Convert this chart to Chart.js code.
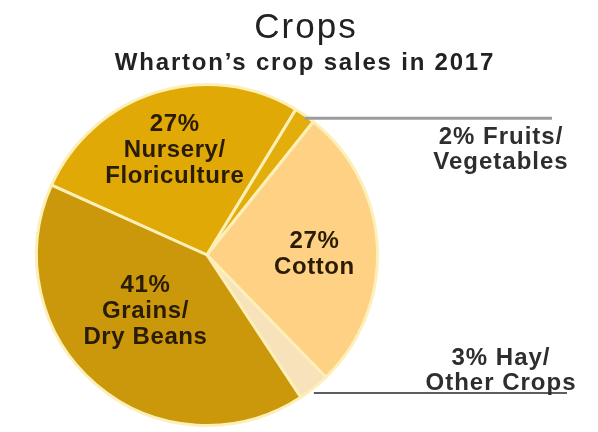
<!DOCTYPE html>
<html>
<head>
<meta charset="utf-8">
<script src="https://cdn.jsdelivr.net/npm/chart.js@4"></script>
<style>
  html, body { margin: 0; padding: 0; background: #fff; }
</style>
</head>
<body>
<canvas id="chart" width="598" height="432"></canvas>
<script>
// crop sales pie, labels drawn by a small plugin (no datalabels available)

const TITLE = 'Crops'
const SUBTITLE = 'Wharton\u2019s crop sales in 2017'

const categories = ['Nursery/Floriculture', 'Fruits/Vegetables', 'Cotton', 'Hay/Other Crops', 'Grains/Dry Beans']
const shares = [27, 2, 27, 3, 41]
const nameLines = [['Nursery/', 'Floriculture'], ['Fruits/', 'Vegetables'], ['Cotton'], ['Hay/', 'Other Crops'], ['Grains/', 'Dry Beans']]
const sliceColors = ['#E1A906', '#E3AE0C', '#FED184', '#F8E2BC', '#CB970B']

// where each label goes: inside the slice, or outside with a leader line
const labelPlacement = [
  { inside: true, r: 0.64, shift: 0 },
  { inside: false, below: true, lineEnd: 552, lineColor: '#9c9c9c', lineWidth: 3, dy: 3 },
  { inside: true, r: 0.63, shift: 2.5 },
  { inside: false, below: false, lineEnd: 567, lineColor: '#5e5e5e', lineWidth: 2, dy: 5 },
  { inside: true, r: 0.49, shift: 7 },
]

const FONT = '"Liberation Sans", Arial, sans-serif'
const OUTSIDE_TEXT_X = 501

const sliceLabels = {
  id: 'sliceLabels',
  afterDraw(chart) {
    const ctx = chart.ctx
    const arcs = chart.getDatasetMeta(0).data

    ctx.save()
    ctx.textAlign = 'center'
    ctx.textBaseline = 'middle'

    // header
    ctx.fillStyle = '#222'
    ctx.letterSpacing = '2px'
    ctx.font = `35px ${FONT}`
    ctx.fillText(TITLE, 306, 28)
    ctx.letterSpacing = '1.8px'
    ctx.font = `bold 24px ${FONT}`
    ctx.fillText(SUBTITLE, 305, 63)

    arcs.forEach((arc, i) => {
      const p = arc.getProps(['x', 'y', 'startAngle', 'endAngle', 'outerRadius'], true)
      const place = labelPlacement[i]
      const mid = (p.startAngle + p.endAngle) / 2

      if (place.inside) {
        const a = mid + (place.shift * Math.PI) / 180
        const cx = p.x + Math.cos(a) * p.outerRadius * place.r
        const cy = p.y + Math.sin(a) * p.outerRadius * place.r
        const lines = [`${shares[i]}%`, ...nameLines[i]]
        ctx.fillStyle = '#2a1c04'
        ctx.letterSpacing = '0.6px'
        ctx.font = `bold 24px ${FONT}`
        const lh = 26
        lines.forEach((t, k) => {
          ctx.fillText(t, cx, cy + (k - (lines.length - 1) / 2) * lh)
        })
      } else {
        const sx = p.x + Math.cos(mid) * p.outerRadius
        const sy = p.y + Math.sin(mid) * p.outerRadius + place.dy
        ctx.strokeStyle = place.lineColor
        ctx.lineWidth = place.lineWidth
        ctx.beginPath()
        ctx.moveTo(sx, sy)
        ctx.lineTo(place.lineEnd, sy)
        ctx.stroke()

        const lines = [`${shares[i]}% ${nameLines[i][0]}`, ...nameLines[i].slice(1)]
        ctx.fillStyle = '#2e2e2e'
        ctx.letterSpacing = '1px'
        ctx.font = `bold 24px ${FONT}`
        const lh = 25
        lines.forEach((t, k) => {
          const y = place.below
            ? sy + 19 + k * lh
            : sy - 10 - (lines.length - 1 - k) * lh
          ctx.fillText(t, OUTSIDE_TEXT_X, y)
        })
      }
    })
    ctx.restore()
  },
}

const chartData = {
  labels: categories,
  datasets: [
    {
      data: shares,
      backgroundColor: sliceColors,
      borderColor: '#FCF0B8',
      borderWidth: 3,
    },
  ],
}

const chartConfig = {
  type: 'pie',
  data: chartData,
  options: {
    responsive: false,
    animation: false,
    events: [],
    rotation: -65.8,
    layout: {
      padding: { top: 83, bottom: 5, left: 35, right: 219 },
    },
    plugins: {
      legend: { display: false },
      tooltip: { enabled: false },
    },
  },
  plugins: [sliceLabels],
}

new Chart(document.querySelector('#chart').getContext('2d'), chartConfig)
</script>
</body>
</html>
